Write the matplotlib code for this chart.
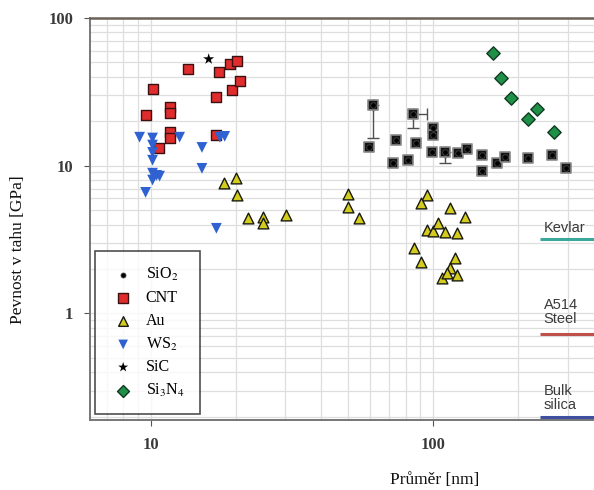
import matplotlib
matplotlib.use("Agg")
import matplotlib.pyplot as plt
from matplotlib.ticker import LogLocator, NullFormatter, FixedLocator, FixedFormatter

plt.rcParams["mathtext.fontset"] = "stix"

# ---------------- data ----------------
cnt_d = [9.6, 10.2, 10.67, 11.68, 11.68, 11.68, 11.68, 13.6, 17.1, 17.1, 17.4, 19.06, 20.2, 19.5, 20.7]
cnt_s = [22.0, 33.0, 13.1, 24.9, 22.7, 16.9, 15.4, 45.1, 29.1, 16.1, 43.0, 48.8, 51.1, 32.5, 37.4]

sic_d = [16.06]
sic_s = [52.7]

ws2_d = [9.14, 10.16, 10.16, 10.16, 10.16, 10.16, 10.5, 10.76, 10.16, 9.6, 12.67, 15.2, 15.2, 17.6, 18.3, 17.1]
ws2_s = [15.6, 15.4, 13.8, 12.3, 10.9, 8.9, 8.6, 8.5, 8.0, 6.6, 15.6, 13.3, 9.6, 15.6, 15.8, 3.77]

au_d = [18.15, 20.0, 20.2, 22.1, 24.95, 24.95, 30.1, 49.9, 49.9, 54.6, 95.2, 90.7, 115, 130,
        95.2, 100, 104, 110, 121.6, 85.7, 90.7, 119.6, 115, 121.6, 108, 112]
au_s = [7.61, 8.23, 6.31, 4.41, 4.48, 4.08, 4.62, 6.41, 5.23, 4.41, 6.31, 5.57, 5.15, 4.48,
        3.65, 3.60, 4.08, 3.54, 3.49, 2.76, 2.22, 2.36, 2.02, 1.81, 1.75, 1.87]

sio2_d = [61.3, 59.2, 73.8, 72.0, 81.5, 87.1, 84.9, 100, 100, 99.2, 110, 122.6, 131.8, 148.9,
          148.9, 168.7, 180, 216.9, 264, 296]
sio2_s = [25.7, 13.3, 14.9, 10.4, 10.9, 14.2, 22.3, 18.0, 16.1, 12.3, 12.3, 12.2, 12.9, 11.8,
          9.18, 10.4, 11.4, 11.2, 11.8, 9.6]

# error bars (diameter, strength, lower y err, x err +)
err_d = [61.3, 84.9, 110]
err_s = [25.7, 22.3, 12.3]
err_ylo = [10.3, 4.3, 1.9]
err_xhi = [0.0, 10.3, 0.0]

si3n4_d = [163.3, 174.4, 189.3, 233.5, 217, 268.6]
si3n4_s = [57.9, 39.2, 28.7, 24.2, 20.7, 16.9]

ref_names = ["Kevlar", "A514\nSteel", "Bulk\nsilica"]
ref_vals = [3.2, 0.73, 0.2]
ref_colors = ["#3aa89a", "#c0504a", "#4050a0"]

xlim = (6.1, 372)
ylim = (0.19, 100)

# ---------------- plot ----------------
fig = plt.figure(figsize=(5.94, 4.90), dpi=100)
ax = fig.add_axes([90/594, 1 - 420/490, 1 - 90/594, (420 - 18)/490])
ax.set_xscale("log")
ax.set_yscale("log")
ax.set_xlim(*xlim)
ax.set_ylim(*ylim)

ax.grid(True, which="both", color="#dedede", linewidth=0.9)
ax.set_axisbelow(True)

# reference lines
text_off = [1.06, 1.13, 1.07]
for name, v, c, off in zip(ref_names, ref_vals, ref_colors, text_off):
    ax.plot([240, xlim[1]], [v, v], color=c, lw=2.2, solid_capstyle="butt", zorder=3)
    ax.text(247, v * off, name, fontsize=10.5, color="#3a3a3a", family="Liberation Sans",
            ha="left", va="bottom", zorder=3, linespacing=1.0)

# error bars
ax.errorbar(err_d, err_s, yerr=[err_ylo, [0]*3], xerr=[[0]*3, err_xhi], fmt="none",
            ecolor="#505050", elinewidth=1.0, capsize=4, zorder=3)

ax.scatter(cnt_d, cnt_s, marker="s", s=55, facecolor="#e02c2c", edgecolor="#3a1010",
           linewidth=1.0, zorder=4, label="CNT")
ax.scatter(au_d, au_s, marker="^", s=60, facecolor="#d4cc1c", edgecolor="#1a1a10",
           linewidth=1.0, zorder=4, label="Au")
ax.scatter(ws2_d, ws2_s, marker="v", s=60, facecolor="#2f62d0", edgecolor="none",
           zorder=4, label="WS$_2$")
ax.scatter(sio2_d, sio2_s, marker="s", s=55, facecolor="#151515", edgecolor="#8a8a8a",
           linewidth=1.2, zorder=5, label="_nolegend_")
ax.scatter(sio2_d, sio2_s, marker="o", s=16, facecolor="black", edgecolor="#444444",
           linewidth=0.6, zorder=6, label="SiO$_2$")
ax.scatter(sic_d, sic_s, marker="*", s=70, facecolor="black", edgecolor="none",
           zorder=4, label="SiC")
ax.scatter(si3n4_d, si3n4_s, marker="D", s=46, facecolor="#1f9048", edgecolor="#103a20",
           linewidth=1.0, zorder=4, label="Si$_3$N$_4$")

# ticks
ax.xaxis.set_major_locator(FixedLocator([10, 100]))
ax.xaxis.set_major_formatter(FixedFormatter(["10", "100"]))
ax.xaxis.set_minor_locator(LogLocator(base=10, subs=range(2, 10), numticks=20))
ax.xaxis.set_minor_formatter(NullFormatter())
ax.yaxis.set_major_locator(FixedLocator([1, 10, 100]))
ax.yaxis.set_major_formatter(FixedFormatter(["1", "10", "100"]))
ax.yaxis.set_minor_locator(LogLocator(base=10, subs=range(2, 10), numticks=20))
ax.yaxis.set_minor_formatter(NullFormatter())
ax.tick_params(which="minor", length=0)
ax.tick_params(which="major", length=4, color="#555555", labelsize=12, pad=8)
for lab in ax.get_xticklabels() + ax.get_yticklabels():
    lab.set_family("Liberation Serif")
    lab.set_fontweight("bold")
    lab.set_color("#3a3a3a")

for side in ["left", "bottom"]:
    ax.spines[side].set_color("#777777")
    ax.spines[side].set_linewidth(1.4)
ax.spines["top"].set_color("#6b6358")
ax.spines["top"].set_linewidth(1.8)
ax.spines["right"].set_visible(False)

# legend
handles, labels = ax.get_legend_handles_labels()
order = ["SiO$_2$", "CNT", "Au", "WS$_2$", "SiC", "Si$_3$N$_4$"]
hmap = dict(zip(labels, handles))
leg = ax.legend([hmap[k] for k in order], order, loc="lower left",
                bbox_to_anchor=(0.004, 0.006), frameon=True, fancybox=False,
                prop={"family": "Liberation Serif", "size": 11.5},
                handletextpad=0.6, borderpad=0.95, labelspacing=0.42,
                markerscale=0.9, handlelength=1.6, borderaxespad=0.2)
leg.get_frame().set_edgecolor("#222222")
leg.get_frame().set_linewidth(1.2)
leg.set_zorder(10)

fig.text(18/594, 1 - 250/490, "Pevnost v tahu [GPa]", rotation=90, ha="center", va="center",
         family="Liberation Serif", fontsize=12.5, color="#111111")
fig.text(435/594, 1 - 480/490, "Průměr [nm]", ha="center", va="center",
         family="Liberation Serif", fontsize=12.5, color="#111111")

fig.savefig("out.png", dpi=100)
